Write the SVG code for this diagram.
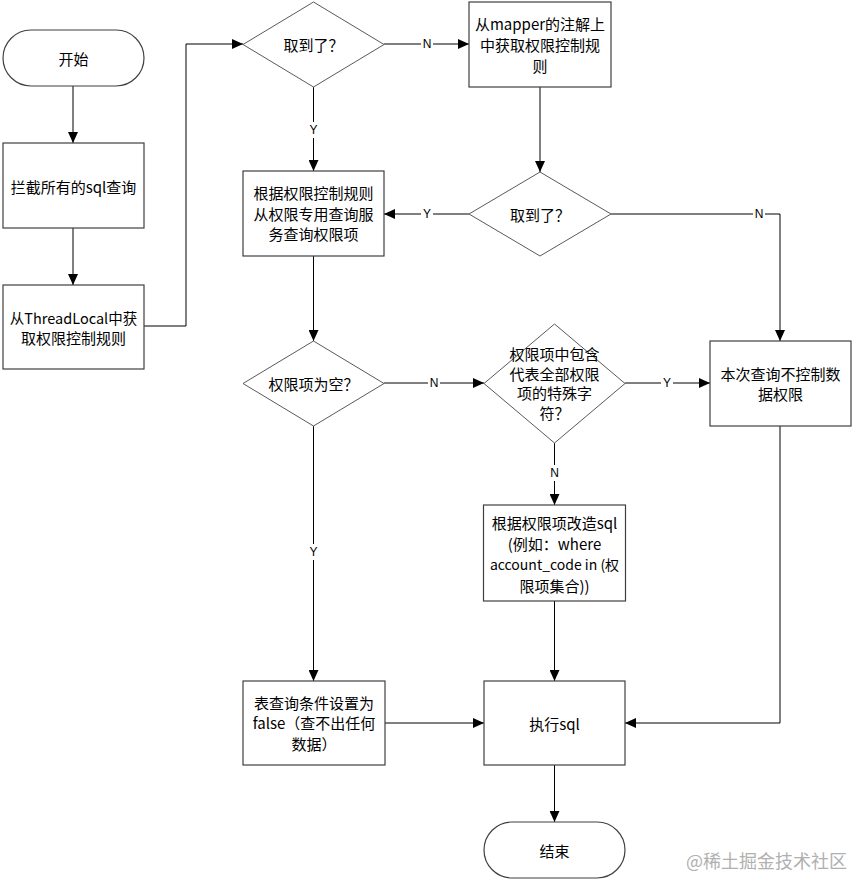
<svg xmlns="http://www.w3.org/2000/svg" width="853" height="880" viewBox="0 0 853 880">
<style>
.box{fill:#fff;stroke:#404040;stroke-width:1.2}
.dia{fill:#fff;stroke:#595959;stroke-width:1}
.t{font-family:"Noto Sans CJK SC","Microsoft YaHei",sans-serif;font-size:15px;fill:#000;text-anchor:middle;dominant-baseline:central}
.c{fill:none;stroke:#000;stroke-width:1}
.lb{font-family:"Liberation Sans",Arial,sans-serif;font-size:12px;fill:#000;text-anchor:middle;dominant-baseline:central}
.lbg{fill:#fff}
.wm{font-family:"Noto Sans CJK SC",sans-serif;font-size:18px;fill:#b0b0b0}
</style>
<defs>
<marker id="ah" markerWidth="11" markerHeight="10" refX="11" refY="5" orient="auto" markerUnits="userSpaceOnUse">
<path d="M0,0 L11,5 L0,10 z" fill="#000"/>
</marker>
</defs>
<rect width="853" height="880" fill="#fff"/>

<g id="connectors">
<path class="c" d="M73,86 V143" marker-end="url(#ah)"/>
<path class="c" d="M73,228 V285" marker-end="url(#ah)"/>
<path class="c" d="M144,326 H186 V44 H243" marker-end="url(#ah)"/>
<path class="c" d="M384,44 H469" marker-end="url(#ah)"/>
<path class="c" d="M313.5,87 V171" marker-end="url(#ah)"/>
<path class="c" d="M540,87 V172" marker-end="url(#ah)"/>
<path class="c" d="M469,214 H384" marker-end="url(#ah)"/>
<path class="c" d="M611,214 H780 V341" marker-end="url(#ah)"/>
<path class="c" d="M313.5,256 V341" marker-end="url(#ah)"/>
<path class="c" d="M384,383 H484" marker-end="url(#ah)"/>
<path class="c" d="M625,383 H710" marker-end="url(#ah)"/>
<path class="c" d="M554.5,443 V505" marker-end="url(#ah)"/>
<path class="c" d="M313.5,426 V681" marker-end="url(#ah)"/>
<path class="c" d="M554.5,601 V681" marker-end="url(#ah)"/>
<path class="c" d="M385,723 H484" marker-end="url(#ah)"/>
<path class="c" d="M780,426 V723 H625" marker-end="url(#ah)"/>
<path class="c" d="M554.5,765 V822" marker-end="url(#ah)"/>
<g id="labels">
<rect class="lbg" x="421" y="36" width="12" height="16"/><text class="lb" x="427" y="44">N</text>
<rect class="lbg" x="307" y="122" width="12" height="16"/><text class="lb" x="313.5" y="130">Y</text>
<rect class="lbg" x="421" y="206" width="12" height="16"/><text class="lb" x="427" y="214">Y</text>
<rect class="lbg" x="753" y="206" width="12" height="16"/><text class="lb" x="759" y="214">N</text>
<rect class="lbg" x="428" y="375" width="12" height="16"/><text class="lb" x="434" y="383">N</text>
<rect class="lbg" x="661" y="375" width="12" height="16"/><text class="lb" x="667" y="383">Y</text>
<rect class="lbg" x="548" y="465" width="12" height="16"/><text class="lb" x="554.5" y="473">N</text>
<rect class="lbg" x="307" y="544" width="12" height="16"/><text class="lb" x="313.5" y="552">Y</text>
</g>
</g>

<g id="start">
<rect class="box" x="3" y="30" width="141" height="56" rx="28" ry="28"/>
<text class="t" x="73.5" y="58">开始</text>
</g>
<g id="intercept">
<rect class="box" x="3" y="143" width="141" height="85"/>
<text class="t" x="73.5" y="186">拦截所有的sql查询</text>
</g>
<g id="threadlocal">
<rect class="box" x="3" y="285" width="141" height="84"/>
<text class="t" x="73.5" y="317" style="font-size:14.5px">从ThreadLocal中获</text>
<text class="t" x="73.5" y="337">取权限控制规则</text>
</g>
<g id="got1">
<polygon class="dia" points="313.5,2 384,44.5 313.5,87 243,44.5"/>
<text class="t" x="313.5" y="44">取到了？</text>
</g>
<g id="mapper">
<rect class="box" x="469" y="2" width="142" height="85"/>
<text class="t" x="540" y="23">从mapper的注解上</text>
<text class="t" x="540" y="44">中获取权限控制规</text>
<text class="t" x="540" y="65">则</text>
</g>
<g id="got2">
<polygon class="dia" points="540,172 611,214 540,256 469,214"/>
<text class="t" x="540" y="214">取到了？</text>
</g>
<g id="query">
<rect class="box" x="243" y="171" width="141" height="85"/>
<text class="t" x="313.5" y="192">根据权限控制规则</text>
<text class="t" x="313.5" y="213">从权限专用查询服</text>
<text class="t" x="313.5" y="233">务查询权限项</text>
</g>
<g id="empty">
<polygon class="dia" points="313.5,341 384,383.5 313.5,426 243,383.5"/>
<text class="t" x="313.5" y="383">权限项为空？</text>
</g>
<g id="special">
<polygon class="dia" points="554.5,324 625,383.5 554.5,443 484,383.5"/>
<text class="t" x="554.5" y="353">权限项中包含</text>
<text class="t" x="554.5" y="373">代表全部权限</text>
<text class="t" x="554.5" y="392">项的特殊字</text>
<text class="t" x="554.5" y="412">符？</text>
</g>
<g id="nocontrol">
<rect class="box" x="710" y="341" width="141" height="85"/>
<text class="t" x="780.5" y="373">本次查询不控制数</text>
<text class="t" x="780.5" y="393">据权限</text>
</g>
<g id="rewrite">
<rect class="box" x="483.5" y="505" width="142" height="96"/>
<text class="t" x="554.5" y="522">根据权限项改造sql</text>
<text class="t" x="554.5" y="543">(例如：where</text>
<text class="t" x="554.5" y="564" style="font-size:14px">account_code in (权</text>
<text class="t" x="554.5" y="585">限项集合))</text>
</g>
<g id="false">
<rect class="box" x="243" y="681" width="142" height="84"/>
<text class="t" x="314" y="702">表查询条件设置为</text>
<text class="t" x="314" y="722">false（查不出任何</text>
<text class="t" x="314" y="743">数据）</text>
</g>
<g id="exec">
<rect class="box" x="484" y="681" width="141" height="84"/>
<text class="t" x="554.5" y="723">执行sql</text>
</g>
<g id="end">
<rect class="box" x="484" y="822" width="141" height="56" rx="28" ry="28"/>
<text class="t" x="554.5" y="850">结束</text>
</g>
<text class="wm" x="686" y="868">@稀土掘金技术社区</text>
</svg>
